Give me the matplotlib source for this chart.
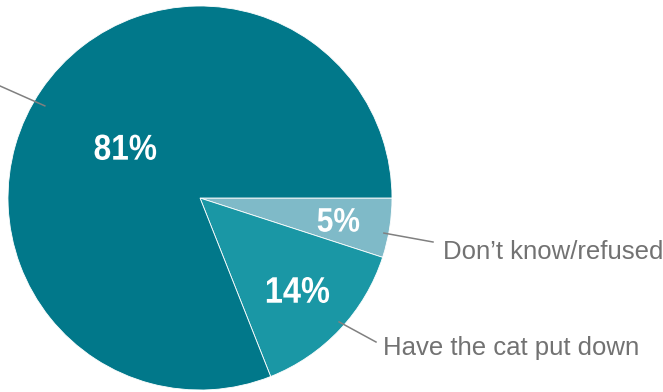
import numpy as np
import matplotlib
matplotlib.use('Agg')
import matplotlib.pyplot as plt
from matplotlib.textpath import TextPath
from matplotlib.font_manager import FontProperties
from matplotlib.patches import PathPatch
from matplotlib.transforms import Affine2D

# data
labels = ["Don\u2019t know/refused", "Have the cat put down", ""]
shares = [5, 14, 81]
colors = ['#7fbac8', '#1a97a5', '#01788a']

# label placement (in pixel space of the picture)
pct_dist = [0.73, 0.70, 0.47]
pct_size = [34, 37, 36]
line_start = [(0.975, 10.8), (0.97, 41.7), (0.94, 210.7)]
line_end = [(433, 242), (376, 342), (-45, 66)]
text_pos = [(443, 259), (383, 355), (-50, 60)]

W, H = 663, 392
cx, cy, R = 200, 198, 192

fig = plt.figure(figsize=(W / 100, H / 100), dpi=100)
ax = fig.add_axes([0, 0, 1, 1])

wedges, _ = ax.pie(shares, colors=colors, startangle=0, counterclock=True,
                   center=(cx, cy), radius=R,
                   wedgeprops=dict(edgecolor='white', linewidth=0.6))
ax.set_xlim(0, W)
ax.set_ylim(H, 0)
ax.set_aspect('equal')
ax.set_axis_off()

bold = FontProperties(family='Liberation Sans', weight='bold')

def narrow_text(x, y, s, size, squeeze=0.88):
    # condensed bold label, drawn as a path so it can be squeezed
    tp = TextPath((0, 0), s, size=size, prop=bold)
    ext = tp.get_extents()
    tr = (Affine2D().translate(-(ext.x0 + ext.x1) / 2, -(ext.y0 + ext.y1) / 2)
          .scale(squeeze, -1).translate(x, y))
    ax.add_patch(PathPatch(tr.transform_path(tp), facecolor='white',
                           edgecolor='none'))

for i, w in enumerate(wedges):
    mid = np.deg2rad((w.theta1 + w.theta2) / 2)
    d = pct_dist[i] * R
    narrow_text(cx + d * np.cos(mid), cy + d * np.sin(mid),
                str(shares[i]) + '%', pct_size[i])

    f, ang = line_start[i]
    a = np.deg2rad(ang)
    x0, y0 = cx + f * R * np.cos(a), cy + f * R * np.sin(a)
    x1, y1 = line_end[i]
    ax.plot([x0, x1], [y0, y1], color='#808080', lw=1.1, clip_on=False)
    ax.text(text_pos[i][0], text_pos[i][1], labels[i], ha='left',
            va='baseline', color='#727272', fontsize=18.5,
            family='Liberation Sans')

fig.savefig('out.png', dpi=100)
